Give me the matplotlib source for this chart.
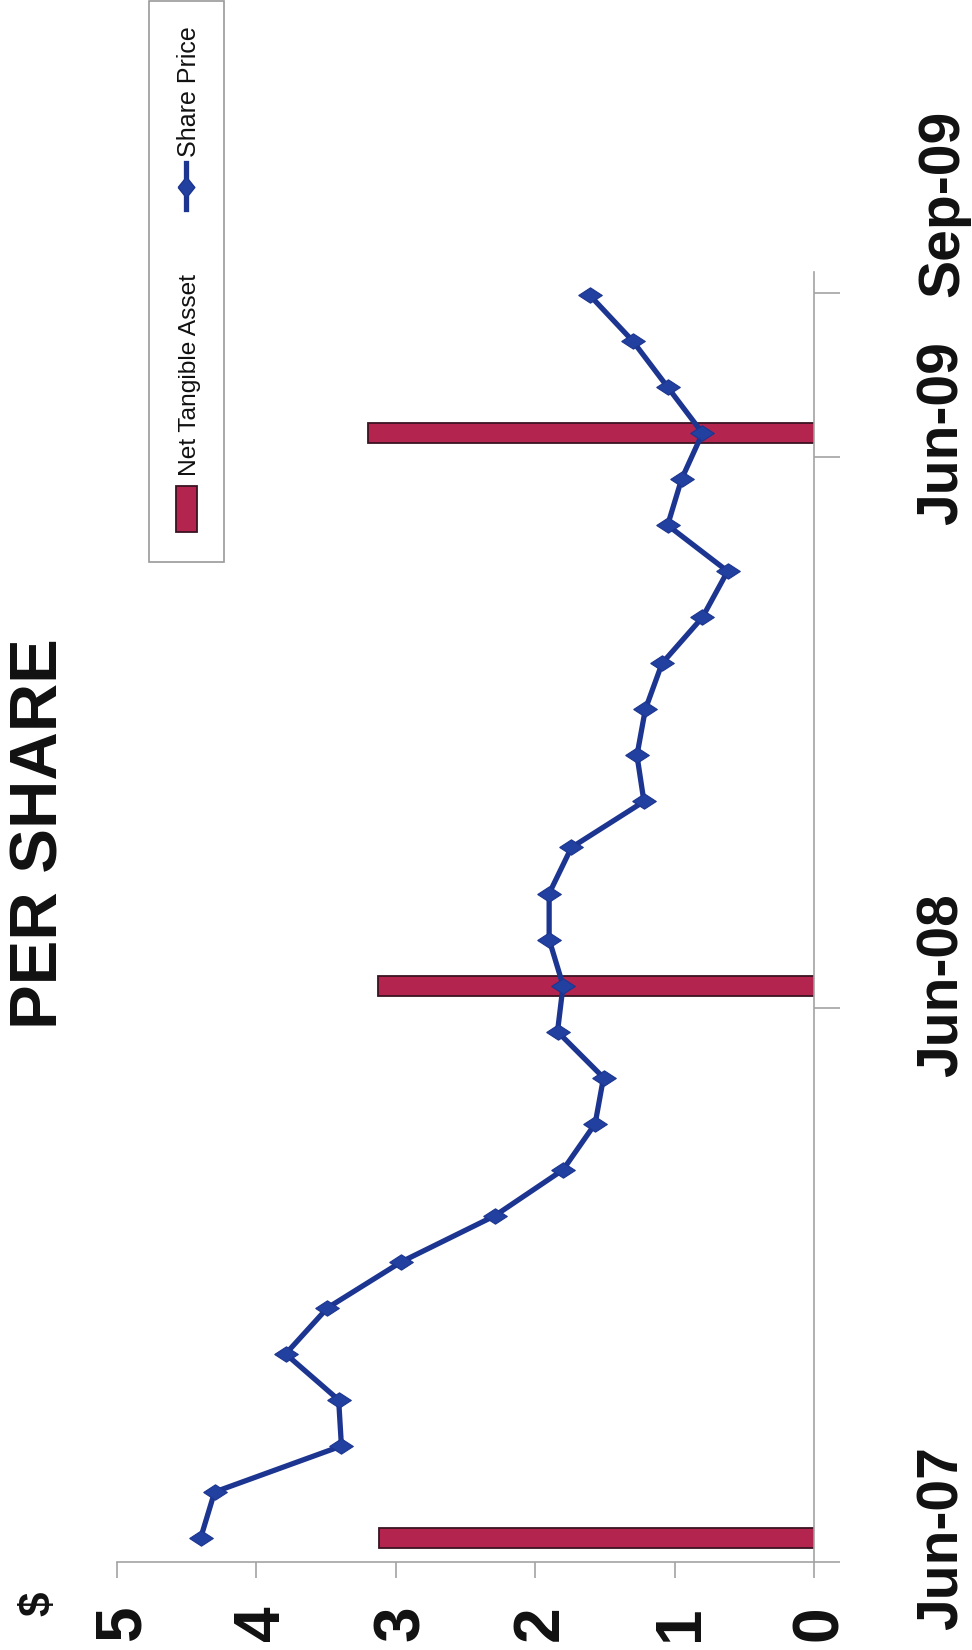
import matplotlib
matplotlib.use("Agg")
import matplotlib.pyplot as plt
from matplotlib import transforms
from matplotlib.patches import Rectangle
from matplotlib.lines import Line2D

# ---- data -------------------------------------------------------------
# monthly index: 0 = Jun-07 ... 27 = Sep-09
months = list(range(28))
share_price = [4.40, 4.30, 3.39, 3.41, 3.79, 3.49, 2.96, 2.29, 1.80, 1.57,
               1.51, 1.84, 1.80, 1.90, 1.90, 1.74, 1.22, 1.27, 1.21, 1.09,
               0.80, 0.62, 1.05, 0.95, 0.80, 1.05, 1.30, 1.61]
nta_months = [0, 12, 24]
nta_values = [3.12, 3.13, 3.20]

date_labels = ["Jun-07", "Jun-08", "Jun-09", "Sep-09"]
date_label_pos = [0, 12, 24, 29]
date_tick_pos = [-0.52, 11.51, 23.48, 27.04]
value_ticks = [0, 1, 2, 3, 4, 5]

# ---- style ------------------------------------------------------------
W, H, DPI = 972, 1650, 100
BAR_COLOR = "#b3244f"
BAR_EDGE = "#3a1422"
LINE_COLOR = "#1c3590"
MARKER_COLOR = "#21409f"
AXIS_GRAY = "#a3a3a3"
SANS = ["Liberation Sans", "DejaVu Sans"]


def pt(px):
    return px * 72.0 / DPI


fig = plt.figure(figsize=(W / DPI, H / DPI), dpi=DPI)
fig.patch.set_facecolor("white")

# plot area: value axis runs horizontally (5 on the left, 0 on the right),
# time runs upward
ax_left, ax_right, ax_bottom, ax_top = 117, 814, 1562, 272
ax = fig.add_axes([ax_left / W, 1 - ax_bottom / H,
                   (ax_right - ax_left) / W, (ax_bottom - ax_top) / H])
ax.set_xlim(5, 0)
ax.set_ylim(-0.52, 27.5)

diamond = [(-1, 0), (0, 0.65), (1, 0), (0, -0.65), (-1, 0)]

ax.barh(nta_months, nta_values, height=0.435, color=BAR_COLOR,
        edgecolor=BAR_EDGE, linewidth=1.3, zorder=2)
ax.plot(share_price, months, color=LINE_COLOR, linewidth=3.8,
        marker=diamond, markersize=17, markerfacecolor=MARKER_COLOR,
        markeredgecolor=LINE_COLOR, markeredgewidth=0.8, zorder=3)

for side in ("left", "top"):
    ax.spines[side].set_visible(False)
for side in ("right", "bottom"):
    ax.spines[side].set_color(AXIS_GRAY)
    ax.spines[side].set_linewidth(1.2)

ax.set_xticks(value_ticks)
ax.set_xticklabels([])
ax.tick_params(axis="x", direction="out", length=pt(16), width=1.2,
               color=AXIS_GRAY)

ax.yaxis.tick_right()
ax.set_yticks(date_tick_pos)
ax.set_yticklabels([])
ax.tick_params(axis="y", direction="out", length=pt(26), width=1.2,
               color=AXIS_GRAY)
ax.yaxis.get_major_ticks()[3].tick2line.set_color("#222222")

# value labels, rotated with the chart
VAL_EM = 64
val_trans = transforms.offset_copy(
    transforms.blended_transform_factory(ax.transData, fig.transFigure),
    fig=fig, x=0.716 * VAL_EM / 2, y=0, units="dots")
for v in value_ticks:
    ax.text(v, 1 - 1623 / H, str(v), transform=val_trans, rotation=90,
            rotation_mode="anchor", ha="center", va="baseline",
            fontsize=pt(VAL_EM), fontweight="bold", family=SANS,
            color="#111111", clip_on=False)

# date labels
date_trans = transforms.blended_transform_factory(fig.transFigure, ax.transData)
for lab, pos in zip(date_labels, date_label_pos):
    ax.text(958 / W, pos, lab, transform=date_trans, rotation=90,
            rotation_mode="anchor", ha="center", va="baseline",
            fontsize=pt(57), fontweight="bold", family=SANS,
            color="#111111", clip_on=False)

# unit and title
fig.text(50 / W, 1 - 1604 / H, "$", rotation=90, rotation_mode="anchor",
         ha="center", va="baseline", fontsize=pt(44), fontweight="bold",
         family=SANS, color="#111111")
fig.text(58 / W, 1 - 834 / H, "PER SHARE", rotation=90, rotation_mode="anchor",
         ha="center", va="baseline", fontsize=pt(67), fontweight="bold",
         family=SANS, color="#111111")

# legend (rotated, drawn in figure pixels)
def fx(x):
    return x / W


def fy(y):
    return 1 - y / H


fig.add_artist(Rectangle((fx(149), fy(562)), 75 / W, 561 / H,
                         transform=fig.transFigure, fill=False,
                         edgecolor="#9a9a9a", linewidth=1.2))
fig.add_artist(Rectangle((fx(176), fy(532)), 21 / W, 46 / H,
                         transform=fig.transFigure, facecolor=BAR_COLOR,
                         edgecolor=BAR_EDGE, linewidth=1.3))
fig.text(fx(196), fy(476), "Net Tangible Asset", rotation=90,
         rotation_mode="anchor", ha="left", va="baseline", fontsize=pt(24.5),
         family=SANS, color="#111111")
fig.add_artist(Line2D([fx(186), fx(186)], [fy(163), fy(209)],
                      transform=fig.transFigure, color=LINE_COLOR,
                      linewidth=3.8))
fig.add_artist(Line2D([fx(186)], [fy(187)], transform=fig.transFigure,
                      marker=[(-0.8, 0), (0, 1), (0.8, 0), (0, -1), (-0.8, 0)],
                      markersize=15, markerfacecolor=MARKER_COLOR,
                      markeredgecolor=LINE_COLOR, linestyle="none"))
fig.text(fx(196), fy(157), "Share Price", rotation=90,
         rotation_mode="anchor", ha="left", va="baseline", fontsize=pt(25),
         family=SANS, color="#111111")

fig.savefig("out.png", dpi=DPI, facecolor="white")
